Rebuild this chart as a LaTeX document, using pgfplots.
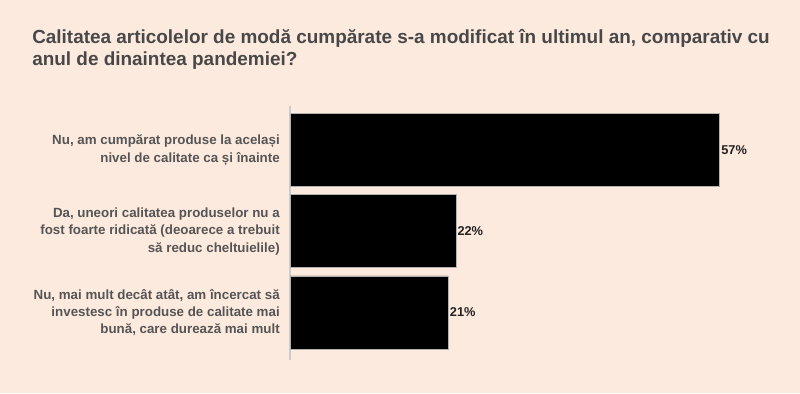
\documentclass[border=0pt]{standalone}
\usepackage{fontspec}
\setmainfont{Liberation Sans}
\usepackage{pgfplots}
\pgfplotsset{compat=1.18}
\definecolor{bg}{RGB}{253,234,222}
\definecolor{titlec}{RGB}{72,72,72}
\definecolor{labc}{RGB}{85,85,85}
\definecolor{valc}{RGB}{34,34,34}
\begin{document}
\begin{tikzpicture}[x=0.75pt,y=0.75pt]
\fill[bg] (0,0) rectangle (800,393);
\node[anchor=base west,inner sep=0pt,text=titlec,font=\fontsize{14.2pt}{16.5pt}\selectfont\bfseries,align=left] at (32,327)
 {Calitatea articolelor de modă cumpărate s-a modificat în ultimul an, comparativ cu\\anul de dinaintea pandemiei?};
\begin{axis}[
  at={(290*0.75pt,33*0.75pt)}, anchor=south west,
  scale only axis, width=367.5pt, height=190.5pt,
  xmin=0, xmax=65,
  ymin=-0.543, ymax=2.586, y dir=reverse,
  xbar, bar width=54.75pt,
  axis x line=none,
  axis y line*=left,
  y axis line style={draw=black!20, line width=0.8pt},
  ytick={0,1,2}, major tick length=0pt,
  yticklabels={{Nu, am cumpărat produse la același\\nivel de calitate ca și înainte},
               {Da, uneori calitatea produselor nu a\\fost foarte ridicată (deoarece a trebuit\\să reduc cheltuielile)},
               {Nu, mai mult decât atât, am încercat să\\investesc în produse de calitate mai\\bună, care durează mai mult}},
  yticklabel style={align=right, text=labc, font=\fontsize{10pt}{13pt}\selectfont\bfseries, inner sep=0pt, xshift=-7.5pt},
  /pgf/number format/assume math mode=true,
  nodes near coords={\pgfmathprintnumber\pgfplotspointmeta\%},
  every node near coord/.append style={text=valc, font=\fontsize{9.6pt}{12pt}\selectfont\bfseries, anchor=west, inner sep=1pt},
  point meta=x,
  clip=false,
]
\addplot[fill=black, draw=black!30, line width=0.5pt] coordinates {(57,0) (22,1) (21,2)};
\end{axis}
\end{tikzpicture}
\end{document}
